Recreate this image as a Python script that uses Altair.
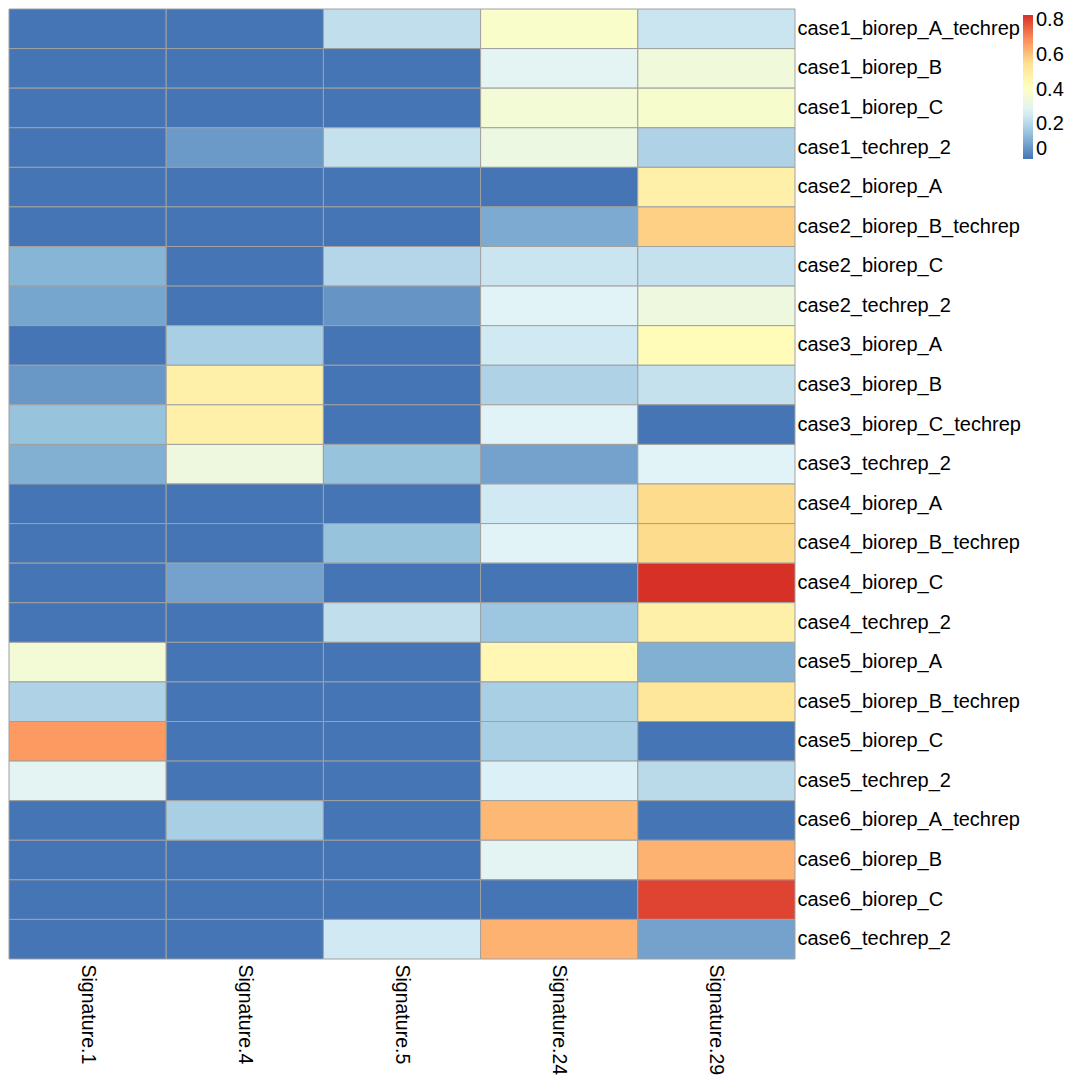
import altair as alt
import pandas as pd

signatures = ["Signature.1", "Signature.4", "Signature.5", "Signature.24", "Signature.29"]
samples = [
    "case1_biorep_A_techrep", "case1_biorep_B", "case1_biorep_C", "case1_techrep_2",
    "case2_biorep_A", "case2_biorep_B_techrep", "case2_biorep_C", "case2_techrep_2",
    "case3_biorep_A", "case3_biorep_B", "case3_biorep_C_techrep", "case3_techrep_2",
    "case4_biorep_A", "case4_biorep_B_techrep", "case4_biorep_C", "case4_techrep_2",
    "case5_biorep_A", "case5_biorep_B_techrep", "case5_biorep_C", "case5_techrep_2",
    "case6_biorep_A_techrep", "case6_biorep_B", "case6_biorep_C", "case6_techrep_2",
]

sig1 = [0, 0, 0, 0, 0, 0, 0.12, 0.09, 0, 0.065, 0.15, 0.11,
        0, 0, 0, 0, 0.36, 0.19, 0.67, 0.29, 0, 0, 0, 0]
sig4 = [0, 0, 0, 0.07, 0, 0, 0, 0, 0.18, 0.48, 0.48, 0.34,
        0, 0, 0.085, 0, 0, 0, 0, 0, 0.18, 0, 0, 0]
sig5 = [0.22, 0, 0, 0.23, 0, 0, 0.2, 0.06, 0, 0, 0, 0.15,
        0, 0.15, 0, 0.22, 0, 0, 0, 0, 0, 0, 0, 0.25]
sig24 = [0.39, 0.29, 0.36, 0.33, 0, 0.1, 0.24, 0.28, 0.25, 0.19, 0.28, 0.085,
         0.25, 0.28, 0, 0.16, 0.45, 0.18, 0.18, 0.27, 0.62, 0.29, 0, 0.63]
sig29 = [0.24, 0.35, 0.38, 0.19, 0.48, 0.58, 0.23, 0.34, 0.43, 0.23, 0, 0.28,
         0.56, 0.56, 0.83, 0.48, 0.11, 0.52, 0, 0.21, 0, 0.63, 0.8, 0.085]

palette = ["#4575B4", "#91BFDB", "#E0F3F8", "#FFFFBF", "#FEE090", "#FC8D59", "#D73027"]
vmax = 0.83
domain = [vmax * i / 6 for i in range(7)]

cols = [sig1, sig4, sig5, sig24, sig29]
rows = []
for s, vals in zip(signatures, cols):
    for name, v in zip(samples, vals):
        rows.append({"signature": s, "sample": name, "value": v})
df = pd.DataFrame(rows)

font = "Liberation Sans"

chart = alt.Chart(df).mark_rect(stroke="#A0A0A0", strokeWidth=1).encode(
    x=alt.X("signature:N", sort=signatures, title=None,
            axis=alt.Axis(orient="bottom", labelAngle=90, labelAlign="left",
                          labelBaseline="middle", labelPadding=5, ticks=False,
                          domain=False, labelFontSize=19.5, labelFont=font,
                          labelColor="black", labelLimit=0)),
    y=alt.Y("sample:N", sort=samples, title=None,
            axis=alt.Axis(orient="right", ticks=False, domain=False, labelPadding=2,
                          labelFontSize=20, labelFont=font, labelColor="black",
                          labelLimit=0)),
    color=alt.Color("value:Q",
                    scale=alt.Scale(domain=domain, range=palette, interpolate="rgb"),
                    legend=alt.Legend(orient="none", legendX=1014, legendY=6,
                                      title=None, gradientLength=144,
                                      gradientThickness=10, values=[0, 0.2, 0.4, 0.6, 0.8],
                                      labelFontSize=20, labelFont=font,
                                      labelColor="black", format="~g",
                                      gradientStrokeWidth=0, labelOffset=3,
                                      labelOverlap=False)),
).properties(
    width=786, height=950, padding=0
).configure_view(stroke=None).configure_scale(bandPaddingInner=0, bandPaddingOuter=0)

chart.save("out.html", embed_options={"renderer": "svg", "actions": False})
